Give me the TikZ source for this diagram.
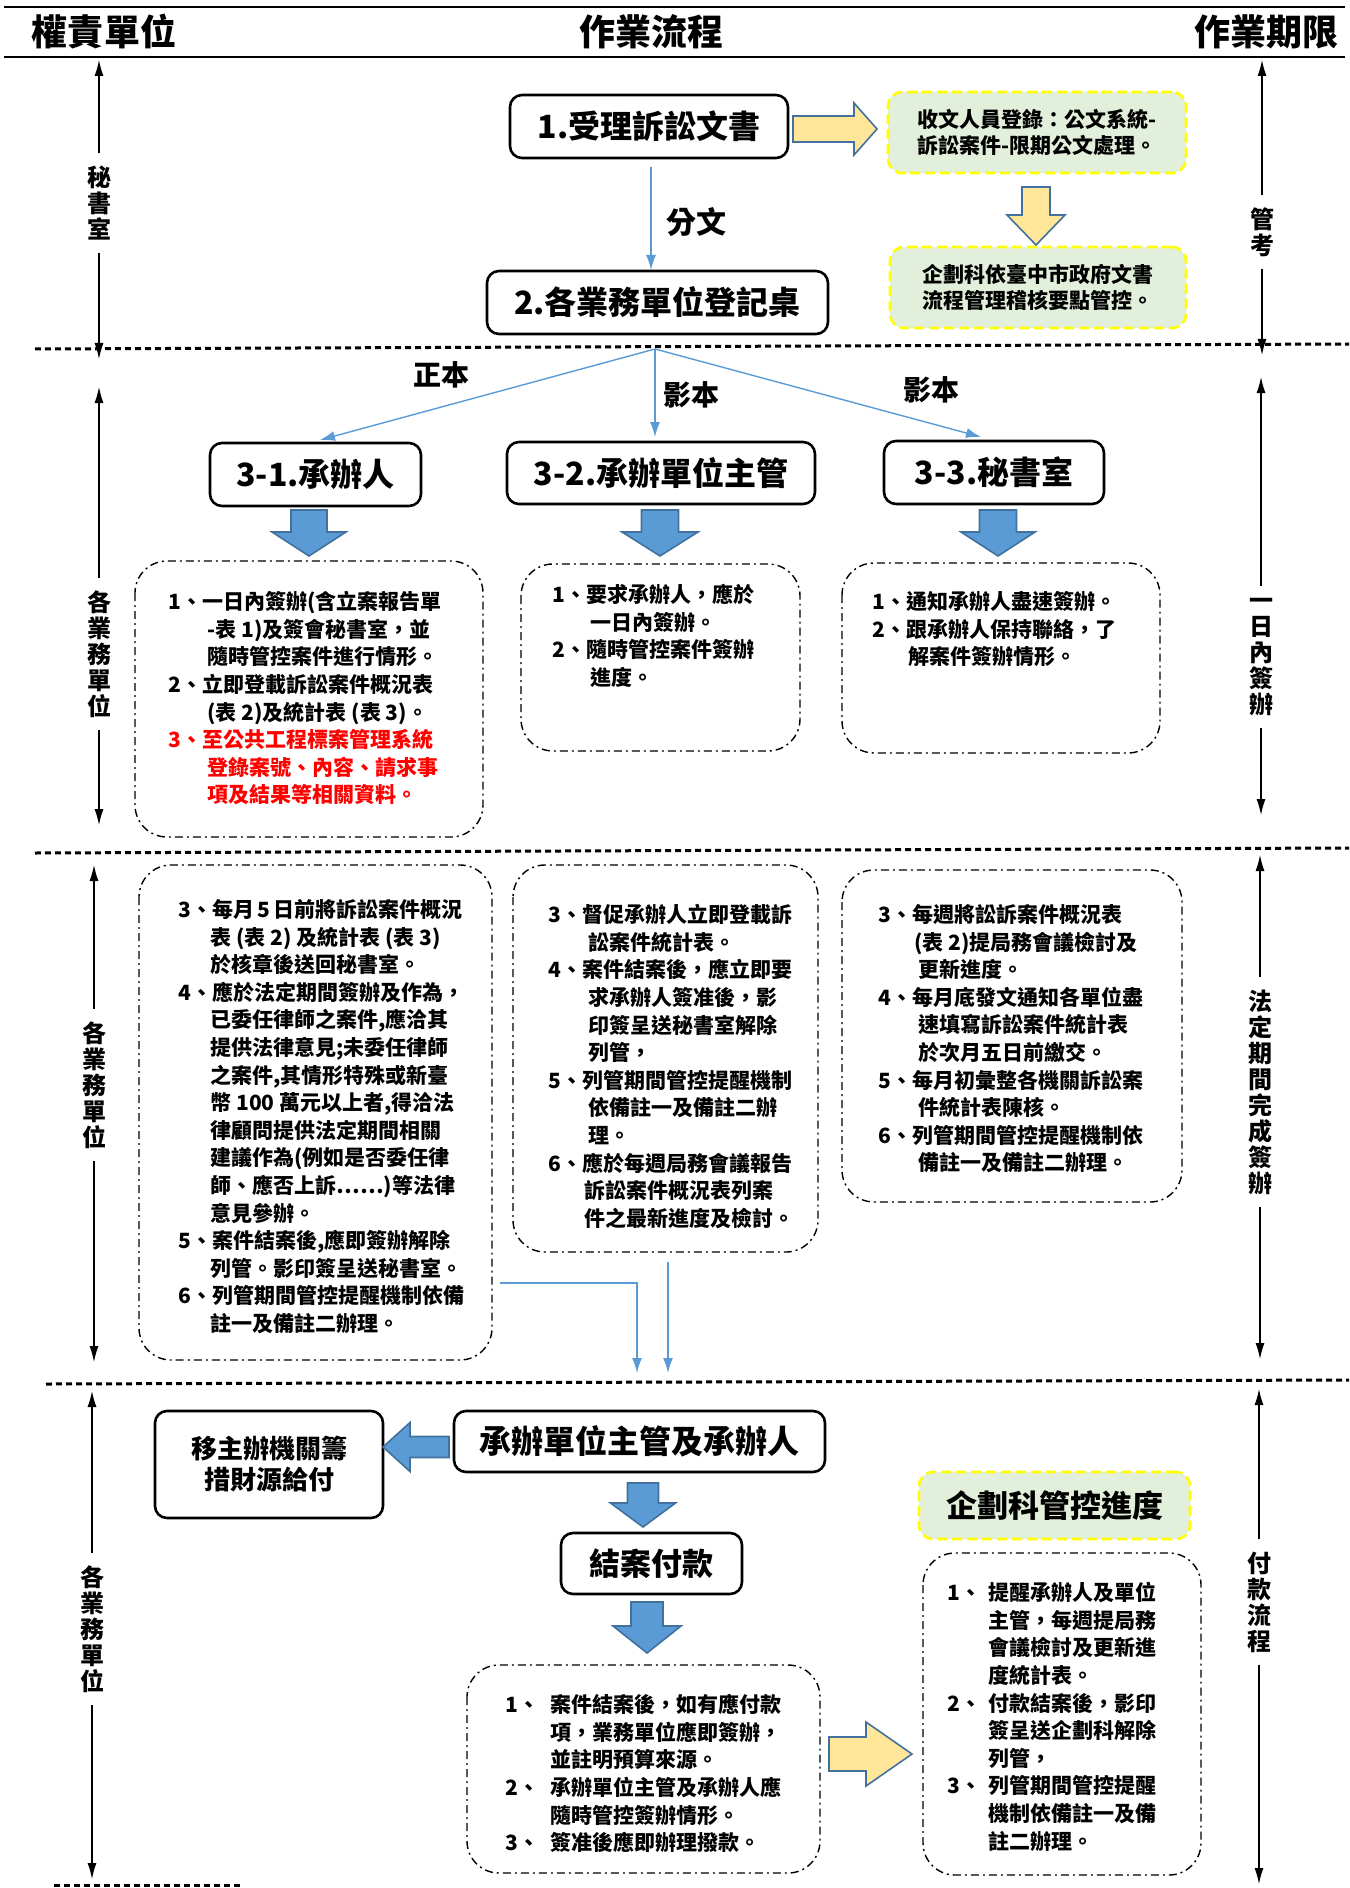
\documentclass[tikz,border=0pt]{standalone}
\usepackage{fontspec}
\setmainfont{Noto Sans CJK TC}
\usetikzlibrary{arrows.meta}
\definecolor{lblue}{HTML}{5B9BD5}
\definecolor{dblue}{HTML}{41719C}
\definecolor{lyel}{HTML}{FFE699}
\definecolor{lgrn}{HTML}{E2EFDA}
\definecolor{ybord}{HTML}{FFFF00}
\newcommand\BlkDown[7]{%
 \draw[#7] (#1-#5,#2) -- (#1+#5,#2) -- (#1+#5,#3) -- (#1+#6,#3) -- (#1,#4) -- (#1-#6,#3) -- (#1-#5,#3) -- cycle;}
\newcommand\BlkHor[7]{%
 \draw[#7] (#1,#4-#5) -- (#2,#4-#5) -- (#2,#4-#6) -- (#3,#4) -- (#2,#4+#6) -- (#2,#4+#5) -- (#1,#4+#5) -- cycle;}
\begin{document}
\begin{tikzpicture}[x=0.5pt,y=-0.5pt,
  hdr/.style={font=\fontsize{18}{20}\selectfont\bfseries, inner sep=0},
  bigbox/.style={draw, line width=1.3pt, rounded corners=6pt, fill=white, inner sep=2pt,
     font=\fontsize{16}{18}\selectfont\bfseries, align=center},
  grnbox/.style={fill=lgrn, draw=ybord, dashed, dash pattern=on 5pt off 2.5pt, line width=1.3pt,
     rounded corners=7pt, font=\fontsize{10.5}{13}\selectfont\bfseries, align=left},
  ddbox/.style={draw, line width=0.7pt, dash pattern=on 4pt off 2pt on 1pt off 2pt, rounded corners=16pt},
  body/.style={font=\fontsize{10.5}{13.8}\selectfont\bfseries, align=left, anchor=north west, inner sep=0},
  axl/.style={font=\fontsize{12}{13}\selectfont\bfseries, align=center, inner xsep=0, inner ysep=6pt},
  lbl/.style={font=\fontsize{14}{16}\selectfont\bfseries, inner sep=0},
  axarr/.style={draw=black, line width=0.6pt, -{Latex[length=8pt,width=4.5pt]}},
  bluearr/.style={draw=lblue, line width=0.7pt, -{Latex[length=7.5pt,width=5pt]}},
  sep/.style={line width=1.5pt, dash pattern=on 3pt off 2pt},
  blkb/.style={fill=lblue, draw=dblue, line width=0.8pt},
  blky/.style={fill=lyel, draw=dblue, line width=0.8pt}
]
\useasboundingbox (0,0) rectangle (1349,1888);

% header
\draw[line width=1pt] (4,7) -- (1345,7);
\draw[line width=1.4pt] (4,57) -- (1345,57);
\node[hdr] (h1) at (104,32) {權責單位};
\node[hdr] (h2) at (651,32) {作業流程};
\node[hdr] (h3) at (1266,32) {作業期限};

% separators
\draw[sep] (35,349) -- (1349,344);
\draw[sep] (35,853) -- (1349,848);
\draw[sep] (46,1384) -- (1349,1380);
\draw[sep] (54,1885) -- (241,1885);

% axes section 1
\node[axl] (la1) at (99,203) {秘\\書\\室};
\draw[axarr] (la1.north) -- (99,60);
\draw[axarr] (la1.south) -- (99,359);
\node[axl] (ra1) at (1262,232) {管\\考};
\draw[axarr] (ra1.north) -- (1262,60);
\draw[axarr] (ra1.south) -- (1262,355);
% axes section 2
\node[axl] (la2) at (99,654) {各\\業\\務\\單\\位};
\draw[axarr] (la2.north) -- (99,387);
\draw[axarr] (la2.south) -- (99,825);
\node[axl] (ra2) at (1261,657) {一\\日\\內\\簽\\辦};
\draw[axarr] (ra2.north) -- (1261,377);
\draw[axarr] (ra2.south) -- (1261,815);
% axes section 3
\node[axl] (la3) at (94,1085) {各\\業\\務\\單\\位};
\draw[axarr] (la3.north) -- (94,865);
\draw[axarr] (la3.south) -- (94,1362);
\node[axl] (ra3) at (1260,1092) {法\\定\\期\\間\\完\\成\\簽\\辦};
\draw[axarr] (ra3.north) -- (1260,855);
\draw[axarr] (ra3.south) -- (1260,1359);
% axes section 4
\node[axl] (la4) at (92,1629) {各\\業\\務\\單\\位};
\draw[axarr] (la4.north) -- (92,1391);
\draw[axarr] (la4.south) -- (92,1879);
\node[axl] (ra4) at (1259,1602) {付\\款\\流\\程};
\draw[axarr] (ra4.north) -- (1259,1389);
\draw[axarr] (ra4.south) -- (1259,1884);

% section 1
\node[bigbox, minimum width=139pt, minimum height=31.5pt] (b1) at (649,126.5) {1.受理訴訟文書};
\node[bigbox, minimum width=170.5pt, minimum height=31.5pt] (b2) at (657.5,302.5) {2.各業務單位登記桌};
\node[grnbox, minimum width=149pt, minimum height=40.5pt] (g1) at (1037,132.5) {收文人員登錄：公文系統-\\訴訟案件-限期公文處理。};
\node[grnbox, minimum width=148pt, minimum height=40.5pt] (g2) at (1038,287.5) {企劃科依臺中市政府文書\\流程管理稽核要點管控。};
\BlkHor{793}{854}{877}{129}{13}{26}{blky}
\BlkDown{1036}{187}{215}{245}{14}{29}{blky}
\coordinate (fs) at (651,167);
\coordinate (fe) at (651,270);
\draw[bluearr] (fs) -- (fe);
\node[lbl, font=\fontsize{15}{17}\selectfont\bfseries] (fw) at (696,222) {分文};

% section 2
\coordinate (apex) at (655,349);
\coordinate (t31) at (320,440);
\coordinate (t32) at (655,437);
\coordinate (t33) at (981,437);
\draw[bluearr] (apex) -- (t31);
\draw[bluearr] (apex) -- (t32);
\draw[bluearr] (apex) -- (t33);
\node[lbl] (zb) at (441,375) {正本};
\node[lbl] (yb1) at (691,395) {影本};
\node[lbl] (yb2) at (931,390) {影本};
\node[bigbox, minimum width=105.5pt, minimum height=31.5pt] (b31) at (315.5,474.5) {3-1.承辦人};
\node[bigbox, minimum width=154pt, minimum height=31pt] (b32) at (661,473) {3-2.承辦單位主管};
\node[bigbox, minimum width=110pt, minimum height=31.5pt] (b33) at (994,472.5) {3-3.秘書室};
\BlkDown{309}{510}{532}{556}{18}{37}{blkb}
\BlkDown{660}{510}{532}{556}{18.5}{38}{blkb}
\BlkDown{998}{510}{532}{556}{18.5}{37}{blkb}

\draw[ddbox] (135,561) rectangle (483,837);
\draw[ddbox] (521,564) rectangle (800,751);
\draw[ddbox] (842,563) rectangle (1160,753);
\node[body] (tA) at (168,591) {1、一日內簽辦(含立案報告單\\
\hspace*{19.5pt}-表 1)及簽會秘書室，並\\
\hspace*{19.5pt}隨時管控案件進行情形。\\
2、立即登載訴訟案件概況表\\
\hspace*{19.5pt}(表 2)及統計表 (表 3)。\\
\textcolor{red}{3、至公共工程標案管理系統}\\
\hspace*{19.5pt}\textcolor{red}{登錄案號、內容、請求事}\\
\hspace*{19.5pt}\textcolor{red}{項及結果等相關資料。}};
\node[body] (tB) at (552,584) {1、要求承辦人，應於\\
\hspace*{19pt}一日內簽辦。\\
2、隨時管控案件簽辦\\
\hspace*{19pt}進度。};
\node[body] (tC) at (872,591) {1、通知承辦人盡速簽辦。\\
2、跟承辦人保持聯絡，了\\
\hspace*{18pt}解案件簽辦情形。};

% section 3
\draw[ddbox] (139,865) rectangle (492,1360);
\draw[ddbox] (513,865) rectangle (818,1252);
\draw[ddbox] (842,870) rectangle (1182,1202);
\node[body] (tD) at (178,899) {3、每月\,5\,日前將訴訟案件概況\\
\hspace*{16pt}表 (表 2) 及統計表 (表 3)\\
\hspace*{16pt}於核章後送回秘書室。\\
4、應於法定期間簽辦及作為，\\
\hspace*{16pt}已委任律師之案件,應洽其\\
\hspace*{16pt}提供法律意見;未委任律師\\
\hspace*{16pt}之案件,其情形特殊或新臺\\
\hspace*{16pt}幣 100 萬元以上者,得洽法\\
\hspace*{16pt}律顧問提供法定期間相關\\
\hspace*{16pt}建議作為(例如是否委任律\\
\hspace*{16pt}師、應否上訴……)等法律\\
\hspace*{16pt}意見參辦。\\
5、案件結案後,應即簽辦解除\\
\hspace*{16pt}列管。影印簽呈送秘書室。\\
6、列管期間管控提醒機制依備\\
\hspace*{16pt}註一及備註二辦理。};
\node[body] (tE) at (548,904) {3、督促承辦人立即登載訴\\
\hspace*{20pt}訟案件統計表。\\
4、案件結案後，應立即要\\
\hspace*{20pt}求承辦人簽准後，影\\
\hspace*{20pt}印簽呈送秘書室解除\\
\hspace*{20pt}列管，\\
5、列管期間管控提醒機制\\
\hspace*{20pt}依備註一及備註二辦\\
\hspace*{20pt}理。\\
6、應於每週局務會議報告\\
\hspace*{18pt}訴訟案件概況表列案\\
\hspace*{18pt}件之最新進度及檢討。};
\node[body] (tF) at (878,904) {3、每週將訟訴案件概況表\\
\hspace*{18pt}(表 2)提局務會議檢討及\\
\hspace*{20pt}更新進度。\\
4、每月底發文通知各單位盡\\
\hspace*{20pt}速填寫訴訟案件統計表\\
\hspace*{20pt}於次月五日前繳交。\\
5、每月初彙整各機關訴訟案\\
\hspace*{20pt}件統計表陳核。\\
6、列管期間管控提醒機制依\\
\hspace*{20pt}備註一及備註二辦理。};
\coordinate (c1) at (500,1283);
\coordinate (c2) at (637,1283);
\coordinate (c3) at (637,1373);
\draw[bluearr] (c1) -- (c2) -- (c3);
\coordinate (c4) at (668,1262);
\coordinate (c5) at (668,1373);
\draw[bluearr] (c4) -- (c5);

% section 4
\node[bigbox, minimum width=114pt, minimum height=53.5pt, font=\fontsize{13}{15.5}\selectfont\bfseries] (b4a) at (269,1464.5) {移主辦機關籌\\措財源給付};
\node[bigbox, minimum width=185.5pt, minimum height=30.5pt] (b4b) at (639.5,1441.5) {承辦單位主管及承辦人};
\node[bigbox, minimum width=90.5pt, minimum height=30.5pt, font=\fontsize{15.5}{18}\selectfont\bfseries] (b4c) at (651.5,1563.5) {結案付款};
\BlkHor{449}{410}{383}{1447}{10.5}{24.5}{blkb}
\BlkDown{643}{1483}{1503}{1527}{15.5}{32.5}{blkb}
\BlkDown{647}{1602}{1626}{1653}{16}{34}{blkb}
\node[grnbox, minimum width=135.5pt, minimum height=33.5pt, align=center, font=\fontsize{15.5}{18}\selectfont\bfseries] (g3) at (1054.5,1505.5) {企劃科管控進度};
\BlkHor{829}{866}{912}{1754}{17}{32}{blky}
\draw[ddbox] (467,1665) rectangle (820,1873);
\draw[ddbox] (923,1553) rectangle (1201,1875);
\node[body] (tG) at (505,1694) {\makebox[22.5pt][l]{1、}案件結案後，如有應付款\\
\hspace*{22.5pt}項，業務單位應即簽辦，\\
\hspace*{22.5pt}並註明預算來源。\\
\makebox[22.5pt][l]{2、}承辦單位主管及承辦人應\\
\hspace*{22.5pt}隨時管控簽辦情形。\\
\makebox[22.5pt][l]{3、}簽准後應即辦理撥款。};
\node[body] (tH) at (947,1582) {\makebox[20.5pt][l]{1、}提醒承辦人及單位\\
\hspace*{20.5pt}主管，每週提局務\\
\hspace*{20.5pt}會議檢討及更新進\\
\hspace*{20.5pt}度統計表。\\
\makebox[20.5pt][l]{2、}付款結案後，影印\\
\hspace*{20.5pt}簽呈送企劃科解除\\
\hspace*{20.5pt}列管，\\
\makebox[20.5pt][l]{3、}列管期間管控提醒\\
\hspace*{20.5pt}機制依備註一及備\\
\hspace*{20.5pt}註二辦理。};
\end{tikzpicture}
\end{document}
